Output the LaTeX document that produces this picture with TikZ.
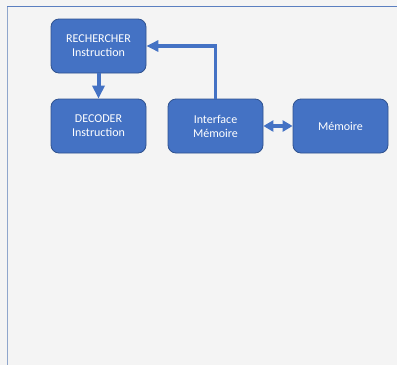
\documentclass[tikz,border=0pt]{standalone}
\usepackage{fontspec}
\setmainfont{Carlito}
\usetikzlibrary{arrows.meta}
\definecolor{boxblue}{HTML}{4472C4}
\definecolor{boxedge}{HTML}{2F528F}
\definecolor{pagebg}{HTML}{F4F4F4}
\definecolor{frametop}{HTML}{5B7FC0}
\definecolor{frameleft}{HTML}{8FA6CC}
\tikzset{
  block/.style={rectangle, rounded corners=8pt, fill=boxblue, draw=boxedge,
    line width=0.8pt, minimum width=95pt, minimum height=54pt, text=white,
    align=center, inner sep=2pt,
    font=\fontsize{12pt}{14pt}\selectfont},
  flow/.style={draw=boxblue, line width=3.2pt},
  bigtip/.style={-{Triangle[length=13pt,width=12pt]}},
}
\begin{document}
\begin{tikzpicture}[x=1pt, y=-1pt]
  % page and frame
  \fill[pagebg] (0,0) rectangle (397,365);
  \useasboundingbox (0,0) rectangle (397,365);
  \draw[frametop, line width=1.2pt] (7,6.5) -- (397,6.5);
  \draw[frameleft, line width=1.6pt] (7.5,6.5) -- (7.5,365);

  % blocks
  \node[block] (fetch)  at (98.5,46)  {RECHERCHER\\Instruction};
  \node[block] (decode) at (98.5,126) {DECODER\\Instruction};
  \node[block] (iface)  at (215.5,126) {Interface\\Mémoire};
  \node[block] (mem)    at (340.5,126) {Mémoire};

  % connectors
  \draw[flow, line width=4pt, bigtip] (fetch.south) -- (decode.north);
  \draw[flow, line width=3.2pt, -{Triangle[length=12pt,width=11pt]}]
    (iface.north) |- (fetch.east);
  \draw[flow, line width=4pt, {Triangle[length=10pt,width=11pt]}-{Triangle[length=10pt,width=11pt]}]
    (iface.east) -- (mem.west);
\end{tikzpicture}
\end{document}
